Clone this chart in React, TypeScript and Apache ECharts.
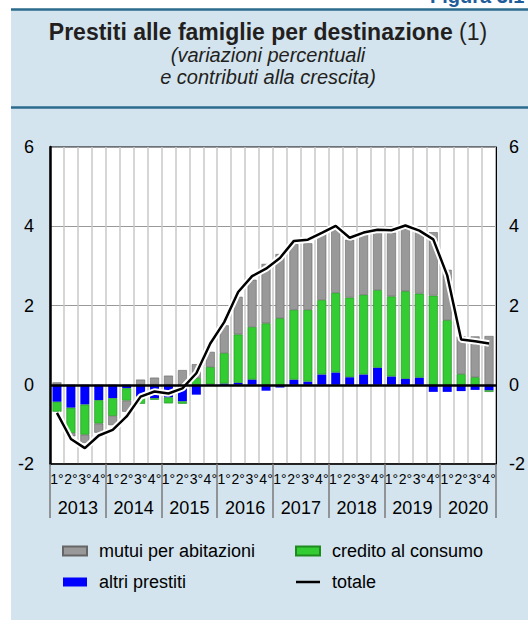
import React, { useEffect, useRef } from "react";
import * as echarts from "echarts";

const quarters = ["1°", "2°", "3°", "4°"];
const years = ["2013", "2014", "2015", "2016", "2017", "2018", "2019", "2020"];

// mutui per abitazioni (contributo)
const mutui = [
  0.06, -0.08, -0.21, -0.23,
  -0.23, -0.28, 0.13, 0.18,
  0.23, 0.37, 0.35, 0.38,
  0.70, 0.95, 1.19, 1.50,
  1.62, 1.66, 1.68, 1.68,
  1.63, 1.46, 1.53, 1.48,
  1.61, 1.57, 1.59, 1.60,
  1.27, 0.95, 1.03, 1.23,
];
// credito al consumo (contributo)
const credito = [
  -0.25, -0.64, -0.76, -0.59,
  -0.45, -0.31, -0.19, -0.04,
  -0.15, -0.06, 0.17, 0.44,
  0.77, 1.22, 1.33, 1.55,
  1.68, 1.76, 1.81, 1.88,
  2.01, 2.01, 2.01, 1.96,
  2.02, 2.21, 2.12, 2.25,
  1.63, 0.27, 0.19, -0.04,
];
// altri prestiti (contributo)
const altri = [
  -0.43, -0.58, -0.50, -0.39,
  -0.34, -0.09, -0.29, -0.34,
  -0.32, -0.42, -0.25, 0.01,
  0.03, 0.05, 0.13, -0.15,
  -0.07, 0.13, 0.08, 0.26,
  0.31, 0.19, 0.26, 0.43,
  0.21, 0.15, 0.18, -0.18,
  -0.18, -0.16, -0.13, -0.14,
];
// totale (variazione percentuale)
const totale = [
  -0.71, -1.37, -1.60, -1.28,
  -1.14, -0.80, -0.30, -0.17,
  -0.22, -0.09, 0.29, 1.04,
  1.58, 2.34, 2.74, 2.93,
  3.20, 3.63, 3.66, 3.83,
  4.01, 3.71, 3.84, 3.91,
  3.90, 4.02, 3.89, 3.67,
  2.76, 1.14, 1.10, 1.04,
];
const yTicks = { min: -2, max: 6, interval: 2 };

const categories: string[] = [];
years.forEach((y) => quarters.forEach((q) => categories.push(y + " " + q)));

const FONT = "'Liberation Sans', Arial, Helvetica, sans-serif";
const RULE = "#2b6b8c";

export default function App() {
  const ref = useRef<HTMLDivElement>(null);
  useEffect(() => {
    document.body.style.margin = "0";
    const chart = echarts.init(ref.current!, null, { renderer: "svg", width: 528, height: 624 });
    const option: any = {
      animation: false,
      backgroundColor: "transparent",
      textStyle: { fontFamily: FONT, color: "#000" },
      graphic: [
        { type: "line", shape: { x1: 11, y1: 9.5, x2: 528, y2: 9.5 }, style: { stroke: RULE, lineWidth: 2.5 } },
        { type: "line", shape: { x1: 11, y1: 107.5, x2: 528, y2: 107.5 }, style: { stroke: RULE, lineWidth: 2.5 } },
        {
          type: "text", x: 430, y: 6,
          style: { text: "Figura 3.1", font: "bold 20px " + FONT, fill: "#1f5c99", align: "left", verticalAlign: "bottom" },
        },
        {
          type: "text", x: 268, y: 32,
          style: {
            text: "{b|Prestiti alle famiglie per destinazione}{n| (1)}",
            align: "center", verticalAlign: "middle",
            rich: {
              b: { fontFamily: FONT, fontWeight: "bold", fontSize: 23, fill: "#231f20", color: "#231f20" },
              n: { fontFamily: FONT, fontSize: 23, fill: "#231f20", color: "#231f20" },
            },
          },
        },
        {
          type: "text", x: 268, y: 55,
          style: { text: "(variazioni percentuali", font: "italic 20px " + FONT, fill: "#231f20", align: "center", verticalAlign: "middle" },
        },
        {
          type: "text", x: 268, y: 77,
          style: { text: "e contributi alla crescita)", font: "italic 20px " + FONT, fill: "#231f20", align: "center", verticalAlign: "middle" },
        },
      ],
      grid: {
        left: 50, right: 29, top: 147, bottom: 160,
        show: true, backgroundColor: "#fff", borderColor: "#000", borderWidth: 1,
      },
      legend: [
        {
          data: [{ name: "mutui per abitazioni", icon: "rect" }, { name: "altri prestiti", icon: "rect" }],
          orient: "vertical", left: 62, top: 541, padding: 0,
          itemWidth: 24, itemHeight: 9, itemGap: 11, selectedMode: false,
          textStyle: { fontSize: 18, color: "#000", lineHeight: 20, padding: [0, 0, 0, 7], fontFamily: FONT },
        },
        {
          data: [
            { name: "credito al consumo", icon: "rect" },
            { name: "totale", icon: "path://M0,0 L24,0 L24,2.5 L0,2.5 Z" },
          ],
          orient: "vertical", left: 295, top: 541, padding: 0,
          itemWidth: 24, itemHeight: 9, itemGap: 11, selectedMode: false,
          textStyle: { fontSize: 18, color: "#000", lineHeight: 20, padding: [0, 0, 0, 7], fontFamily: FONT },
        },
      ],
      xAxis: [
        {
          type: "category", data: categories, position: "bottom", boundaryGap: true,
          axisLine: { show: true, onZero: false, lineStyle: { color: "#000", width: 1.5 } },
          axisTick: {
            show: true, inside: false, length: 54,
            interval: (i: number) => i % 4 === 0,
            lineStyle: { color: "#7a7a7a", width: 1.5 },
          },
          axisLabel: {
            interval: 0, fontSize: 14, margin: 8, color: "#000", fontFamily: FONT,
            formatter: (v: string) => v.split(" ")[1],
          },
          splitLine: { show: true, interval: 0, lineStyle: { color: "#c8c8c8", width: 1.5 } },
        },
        {
          type: "category", data: years, position: "bottom", boundaryGap: true,
          axisLine: { show: false, onZero: false },
          axisTick: { show: false },
          axisLabel: { interval: 0, fontSize: 18, margin: 35, color: "#000", fontFamily: FONT },
          splitLine: { show: false },
        },
      ],
      yAxis: [
        {
          type: "value", ...yTicks, position: "left",
          axisLine: { show: true, onZero: false, lineStyle: { color: "#000", width: 2.5 } },
          axisTick: { show: false },
          axisLabel: { fontSize: 18, margin: 16, color: "#000", fontFamily: FONT },
          splitLine: { show: true, lineStyle: { color: "#999", width: 1 } },
        },
        {
          type: "value", ...yTicks, position: "right",
          axisLine: { show: true, onZero: false, lineStyle: { color: "#000", width: 1 } },
          axisTick: { show: false },
          axisLabel: { fontSize: 18, margin: 13, color: "#000", fontFamily: FONT },
          splitLine: { show: false },
        },
      ],
      series: [
        {
          name: "altri prestiti", type: "bar", stack: "s", data: altri, barWidth: 9,
          itemStyle: { color: "#0000ff" }, emphasis: { disabled: true },
        },
        {
          name: "credito al consumo", type: "bar", stack: "s", data: credito, barWidth: 9,
          itemStyle: { color: "#33cc33", borderColor: "#1f8a1f", borderWidth: 0.6 }, emphasis: { disabled: true },
        },
        {
          name: "mutui per abitazioni", type: "bar", stack: "s", data: mutui, barWidth: 9,
          itemStyle: { color: "#999999", borderColor: "#666666", borderWidth: 0.6 }, emphasis: { disabled: true },
          markLine: {
            silent: true, symbol: ["none", "none"], label: { show: false },
            lineStyle: { color: "#000", width: 2.5, type: "solid" },
            data: [{ yAxis: 0 }],
          },
        },
        {
          name: "halo", type: "line", data: totale, symbol: "none", silent: true,
          lineStyle: { color: "#fff", width: 6.5 }, emphasis: { disabled: true }, z: 3,
        },
        {
          name: "totale", type: "line", data: totale, symbol: "none", silent: true,
          itemStyle: { color: "#000" },
          lineStyle: { color: "#000", width: 2.5 }, emphasis: { disabled: true }, z: 4,
        },
      ],
    };
    chart.setOption(option);
    return () => chart.dispose();
  }, []);
  return (
    <div style={{ position: "absolute", left: 0, top: 0, width: 528, height: 624, background: "#fff", overflow: "hidden" }}>
      <div style={{ position: "absolute", left: 11, top: 10, width: 517, height: 610, background: "#d3e4ee" }} />
      <div ref={ref} style={{ position: "absolute", left: 0, top: 0, width: 528, height: 624 }} />
    </div>
  );
}
